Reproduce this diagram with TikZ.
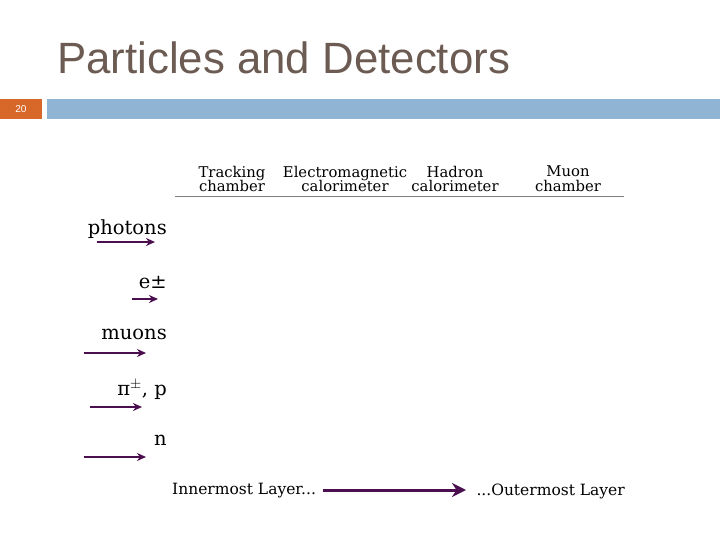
\documentclass[tikz,border=0pt]{standalone}
\usepackage{fontspec}
\setmainfont{DejaVu Serif}
\newfontfamily\titlefont{Liberation Sans}
\usetikzlibrary{arrows.meta}
\definecolor{arr}{HTML}{4B0F4F}
\definecolor{ttl}{HTML}{6B5B52}
\definecolor{org}{HTML}{D8682A}
\definecolor{bar}{HTML}{8FB4D4}
\tikzset{pa/.style={draw=arr,line width=2.2pt,-{Stealth[length=9pt,width=8pt]}},
 lbl/.style={font=\fontsize{19.5}{19.5}\selectfont,inner sep=0pt},
 hd/.style={font=\fontsize{14.8}{14.8}\selectfont,inner sep=0pt,align=center}}
\begin{document}
\begin{tikzpicture}[x=1pt,y=-1pt]
\useasboundingbox (0,0) rectangle (720,540);
\node[anchor=west,text=ttl,font=\titlefont\fontsize{43.8}{43.8}\selectfont,inner sep=0pt] (title) at (57,58) {Particles and Detectors};
\fill[org] (0,99) rectangle (42,119);
\node[text=white,font=\titlefont\fontsize{10}{10}\selectfont] (num) at (21,109) {20};
\fill[bar] (47,99) rectangle (720,119);
\node[hd] (h1) at (232,179) {Tracking\\[0pt]chamber};
\node[hd] (h2) at (345,179) {Electromagnetic\\[0pt]calorimeter};
\node[hd] (h3) at (455,179) {Hadron\\[0pt]calorimeter};
\node[hd] (h4) at (568,179) {Muon\\[0pt]chamber};
\draw[gray,line width=0.8pt] (175,196) coordinate (la) -- (624,196) coordinate (lb);
\node[lbl,anchor=east] (p1) at (167,229) {photons};
\coordinate (a1s) at (97,242); \coordinate (a1e) at (155,242);
\draw[pa] (a1s) -- (a1e);
\node[lbl,anchor=east] (p2) at (167,283) {e±};
\coordinate (a2s) at (132,299); \coordinate (a2e) at (158,299);
\draw[pa] (a2s) -- (a2e);
\node[lbl,anchor=east] (p3) at (167,334) {muons};
\coordinate (a3s) at (84,353); \coordinate (a3e) at (146,353);
\draw[pa] (a3s) -- (a3e);
\node[lbl,anchor=east] (p4) at (167,390) {π$^{\pm}$, p};
\coordinate (a4s) at (90,407); \coordinate (a4e) at (142,407);
\draw[pa] (a4s) -- (a4e);
\node[lbl,anchor=east] (p5) at (167,440) {n};
\coordinate (a5s) at (84,457); \coordinate (a5e) at (146,457);
\draw[pa] (a5s) -- (a5e);
\node[font=\fontsize{15.5}{15.5}\selectfont,inner sep=0pt,anchor=west] (in) at (172,491) {Innermost Layer...};
\node[font=\fontsize{15.5}{15.5}\selectfont,inner sep=0pt,anchor=east] (out) at (625,491) {...Outermost Layer};
\draw[draw=arr,line width=3pt,-{Stealth[length=14pt,width=14pt]}] (323,490) -- (466,490);
\end{tikzpicture}
\end{document}
